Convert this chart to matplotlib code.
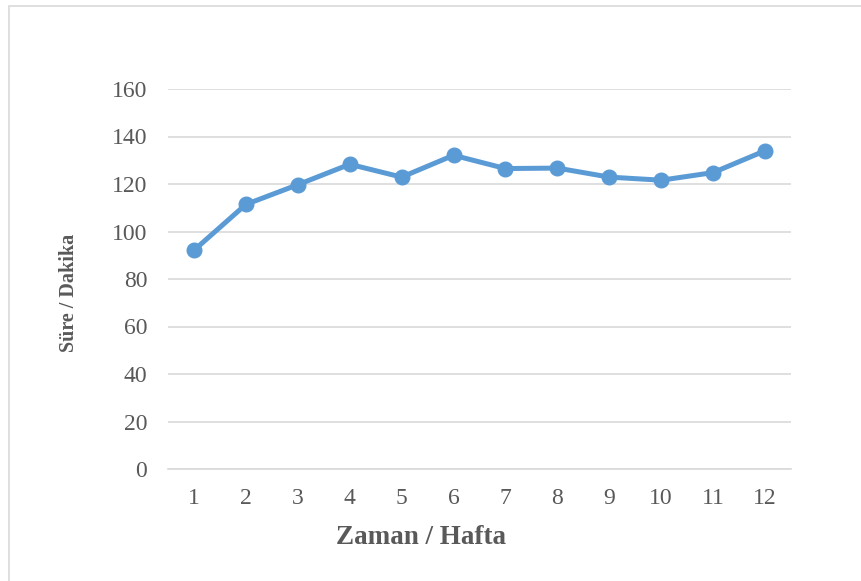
import matplotlib.pyplot as plt
from matplotlib.patches import Rectangle

# weekly duration data
weeks = [1, 2, 3, 4, 5, 6, 7, 8, 9, 10, 11, 12]
minutes = [92.1, 111.4, 119.7, 128.3, 122.9, 132.1, 126.5, 126.7, 122.9, 121.6, 124.8, 134.0]
y_ticks = [0, 20, 40, 60, 80, 100, 120, 140, 160]

plt.rcParams['font.family'] = ['Liberation Serif', 'DejaVu Serif']

W, H = 861, 581
fig = plt.figure(figsize=(W / 100, H / 100), dpi=100)
ax = fig.add_axes([168 / W, 1 - 469 / H, 623 / W, 380 / H])

# outer chart border
fig.patches.append(Rectangle((9 / W, -0.05), 1.0, 1 - 6 / H + 0.05,
                             transform=fig.transFigure, fill=False,
                             edgecolor='#D9D9D9', linewidth=1.2))

ax.plot(weeks, minutes, color='#5B9BD5', linewidth=3.6, marker='o',
        markersize=10.5, markerfacecolor='#5B9BD5', markeredgecolor='#5B9BD5',
        zorder=3)

ax.set_xlim(0.5, 12.5)
ax.set_ylim(0, 160)
ax.set_xticks(weeks)
ax.set_yticks(y_ticks)
ax.yaxis.grid(True, color='#D9D9D9', linewidth=1.2)
ax.set_axisbelow(True)
for side in ['top', 'right', 'left']:
    ax.spines[side].set_visible(False)
ax.spines['bottom'].set_color('#D9D9D9')
ax.spines['bottom'].set_linewidth(1.2)
ax.tick_params(axis='both', length=0, labelsize=17, labelcolor='#595959')
ax.tick_params(axis='y', pad=15)
ax.tick_params(axis='x', pad=14)

# axis titles placed like the original
fig.text(421 / W, 1 - 538 / H, 'Zaman / Hafta', fontsize=19.5, fontweight='bold',
         color='#595959', ha='center', va='center')
fig.text(69 / W, 1 - 293 / H, 'Süre / Dakika', fontsize=14.5, fontweight='bold',
         color='#595959', ha='center', va='center', rotation=90)

fig.savefig('out.png', dpi=100)
